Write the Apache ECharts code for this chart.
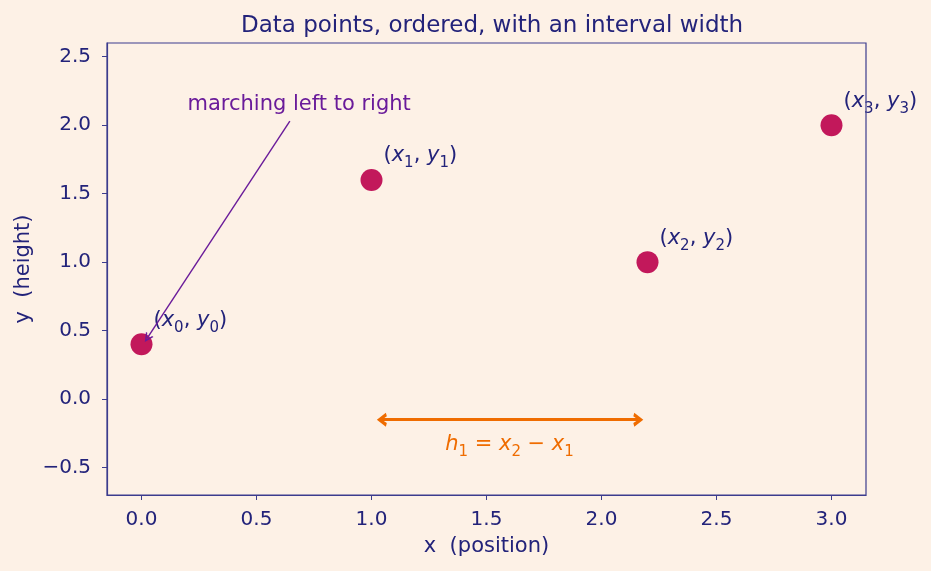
<!DOCTYPE html>
<html>
<head>
<meta charset="utf-8">
<script src="https://cdn.jsdelivr.net/npm/echarts@6/dist/echarts.min.js"></script>
<style>
  html, body { margin: 0; padding: 0; background: #fdf1e6; }
  #main { width: 931px; height: 571px; }
</style>
</head>
<body>
<div id="main"></div>
<script>
// data points
const xs = [0.0, 1.0, 2.2, 3.0];
const ys = [0.4, 1.6, 1.0, 2.0];
const subs = ['0', '1', '2', '3'];

// ticks
const xTicks = [0, 0.5, 1.0, 1.5, 2.0, 2.5, 3.0];
const yTicks = [-0.5, 0, 0.5, 1.0, 1.5, 2.0, 2.5];

// annotations (data coords)
const noteText = 'marching left to right';
const notePos = [0.2, 2.15];
const noteFrom = [0.645, 2.03];
const noteTo = [0.025, 0.445];
const widthFrom = [1.045, -0.15];
const widthTo = [2.16, -0.15];
const widthLabelPos = [1.6, -0.33];

const navy = '#23237a';
const spine = '#3d3d8e';
const pink = '#c2185b';
const purple = '#6a1b9a';
const orange = '#ef6c00';
const font = '"DejaVu Sans"';

// open chevron arrow heads, tip pointing up
const chevron = 'path://M0,10 L5,0 L10,10 L8.2,10 L5,3.6 L1.8,10 Z';
const chevronBold = 'path://M0,9 L5,0 L10,9 L7.4,10 L5,5 L2.6,10 Z';

const mathRich = color => ({
  i: { fontStyle: 'italic', color: color, fontFamily: font, fontSize: 21, lineHeight: 30 },
  n: { color: color, fontFamily: font, fontSize: 21, lineHeight: 30 },
  s: { color: color, fontFamily: font, fontSize: 15, lineHeight: 15, verticalAlign: 'bottom' }
});

const chart = echarts.init(document.getElementById('main'));

const points = xs.map((x, i) => ({
  value: [x, ys[i]],
  label: { formatter: '{n|(}{i|x}{s|' + subs[i] + '}{n|, }{i|y}{s|' + subs[i] + '}{n|)}' }
}));

const option = {
  backgroundColor: '#fdf1e6',
  animation: false,
  title: {
    text: 'Data points, ordered, with an interval width',
    left: 487,
    top: 10,
    textAlign: 'center',
    textStyle: { color: navy, fontFamily: font, fontSize: 23, fontWeight: 'normal' }
  },
  grid: {
    left: 107, right: 65, top: 43, bottom: 76, z: 10,
    show: true, borderColor: spine, borderWidth: 1.2, backgroundColor: 'transparent'
  },
  xAxis: {
    type: 'value', min: -0.15, max: 3.15,
    name: 'x  (position)', nameLocation: 'middle', nameGap: 41,
    nameTextStyle: { color: navy, fontFamily: font, fontSize: 21 },
    axisLine: { show: true, onZero: false, lineStyle: { color: spine, width: 1.2 } },
    splitLine: { show: false },
    axisTick: { show: true, length: 5, customValues: xTicks, lineStyle: { color: spine } },
    axisLabel: {
      customValues: xTicks, margin: 15, color: navy, fontFamily: font, fontSize: 20,
      formatter: v => v.toFixed(1)
    }
  },
  yAxis: {
    type: 'value', min: -0.7, max: 2.6,
    name: 'y  (height)', nameLocation: 'middle', nameGap: 73, nameMoveOverlap: false,
    nameTextStyle: { color: navy, fontFamily: font, fontSize: 21 },
    axisLine: { show: true, onZero: false, lineStyle: { color: spine, width: 1.2 } },
    splitLine: { show: false },
    axisTick: { show: true, length: 5, customValues: yTicks, lineStyle: { color: spine } },
    axisLabel: {
      customValues: yTicks, margin: 16, color: navy, fontFamily: font, fontSize: 20,
      formatter: v => (v < 0 ? '\u2212' + Math.abs(v).toFixed(1) : v.toFixed(1))
    }
  },
  series: [
    {
      type: 'scatter',
      data: points,
      symbolSize: 22,
      itemStyle: { color: pink, opacity: 1 },
      z: 3,
      label: {
        show: true,
        position: 'right',
        offset: [-4, -24],
        color: navy,
        fontFamily: font,
        fontSize: 21,
        rich: mathRich(navy)
      },
      markLine: {
        silent: true,
        animation: false,
        label: { show: false },
        data: [
          [
            { coord: noteFrom, symbol: 'none', lineStyle: { color: purple, width: 1.4, type: 'solid' } },
            { coord: noteTo, symbol: chevron, symbolSize: [9, 9] }
          ],
          [
            { coord: widthFrom, symbol: chevronBold, symbolSize: [14, 10], lineStyle: { color: orange, width: 3, type: 'solid' } },
            { coord: widthTo, symbol: chevronBold, symbolSize: [14, 10] }
          ]
        ]
      }
    },
    {
      type: 'scatter',
      symbolSize: 0,
      silent: true,
      itemStyle: { opacity: 1 },
      data: [
        { value: notePos, label: { formatter: noteText, color: purple, align: 'left' } },
        {
          value: widthLabelPos,
          label: {
            formatter: '{i|h}{s|1}{n| = }{i|x}{s|2}{n| − }{i|x}{s|1}', color: orange, align: 'center',
            rich: mathRich(orange)
          }
        }
      ],
      label: {
        show: true, position: 'inside', fontFamily: font, fontSize: 21, verticalAlign: 'middle'
      }
    }
  ]
};

chart.setOption(option);
</script>
</body>
</html>
